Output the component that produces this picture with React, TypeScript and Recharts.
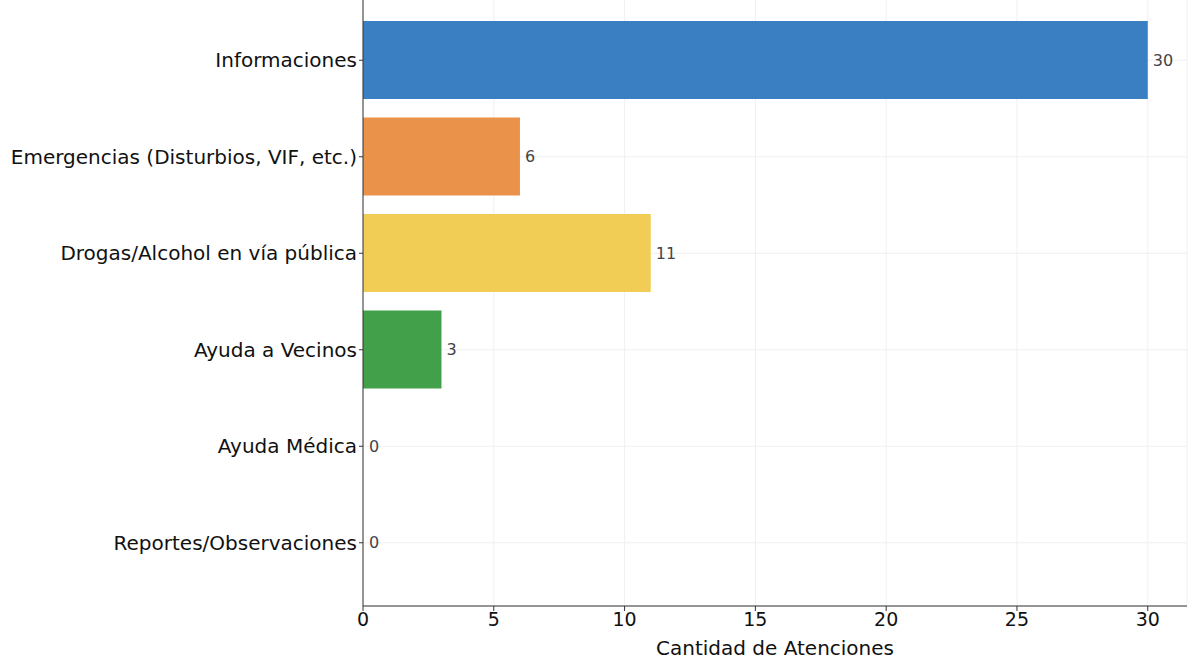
import { Bar, BarChart, CartesianGrid, Cell, LabelList, XAxis, YAxis } from 'recharts'

const categories = [
  'Informaciones',
  'Emergencias (Disturbios, VIF, etc.)',
  'Drogas/Alcohol en vía pública',
  'Ayuda a Vecinos',
  'Ayuda Médica',
  'Reportes/Observaciones',
]
const atenciones = [30, 6, 11, 3, 0, 0]
const barColors = ['#3a7fc1', '#ea9249', '#f1cd55', '#42a04b', '#9a6cb8', '#8b5a4a']
const xTicks = [0, 5, 10, 15, 20, 25, 30]

const data = categories.map((name, i) => ({ name, value: atenciones[i] }))

const font = '"DejaVu Sans", sans-serif'

export default function App() {
  return (
    <div
      style={{
        position: 'absolute',
        left: 0,
        top: 0,
        width: 1192,
        height: 672,
        overflow: 'hidden',
        background: '#fff',
        fontFamily: font,
      }}
    >
      <div style={{ position: 'absolute', left: 0, top: -13 }}>
        <BarChart
          width={1192}
          height={700}
          data={data}
          layout="vertical"
          margin={{ top: 10, right: 5, bottom: 31, left: 0 }}
          barSize={78}
        >
          <CartesianGrid stroke="#f0f0f0" strokeWidth={1} />
          <XAxis
            type="number"
            domain={[0, 31.5]}
            ticks={xTicks}
            allowDataOverflow
            height={50}
            tickSize={5}
            tickMargin={2}
            stroke="#333"
            tick={{ fill: '#111', fontSize: 19, fontFamily: font }}
            label={{
              value: 'Cantidad de Atenciones',
              position: 'insideBottom',
              offset: 1,
              fill: '#111',
              fontSize: 20,
              fontFamily: font,
            }}
          />
          <YAxis
            type="category"
            dataKey="name"
            width={363}
            padding={{ top: 15, bottom: 15 }}
            tickSize={4}
            tickMargin={2}
            stroke="#333"
            interval={0}
            tick={{ fill: '#111', fontSize: 20, fontFamily: font }}
          />
          <Bar dataKey="value" isAnimationActive={false} minPointSize={1}>
            {data.map((entry, index) => (
              <Cell
                key={entry.name}
                fill={barColors[index]}
                fillOpacity={entry.value === 0 ? 0 : 1}
              />
            ))}
            <LabelList
              dataKey="value"
              position="right"
              offset={5}
              fill="#444"
              fontSize={16}
              fontFamily={font}
            />
          </Bar>
        </BarChart>
      </div>
    </div>
  )
}
